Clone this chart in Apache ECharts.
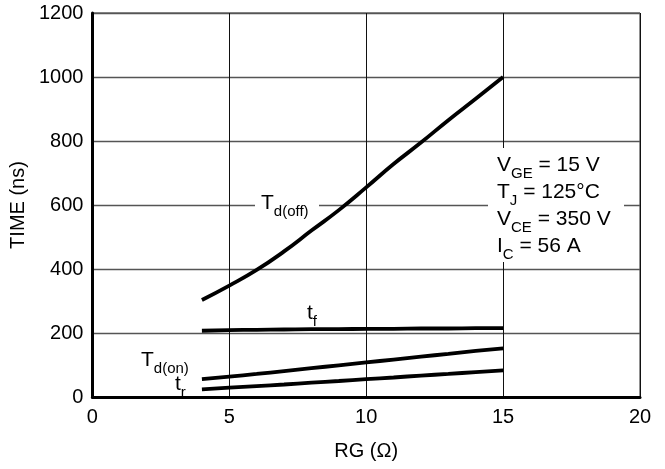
<!DOCTYPE html>
<html>
<head>
<meta charset="utf-8">
<script src="https://cdn.jsdelivr.net/npm/echarts@6/dist/echarts.min.js"></script>
<style>
html,body{margin:0;padding:0;background:#fff;}
#c{width:665px;height:469px;}
</style>
</head>
<body>
<div id="c"></div>
<script>
// Switching times versus gate resistance
const rg = [4, 5, 6, 7, 8, 9, 10, 11, 12, 13, 14, 15];
const tdOff = [303, 348, 397, 455, 520, 584, 655, 728, 795, 865, 932, 1000];
const tf = [207, 209, 210, 211, 212, 212, 213, 213, 214, 214, 215, 215];
const tdOn = [56, 64, 72, 81, 90, 99, 108, 117, 126, 135, 144, 152];
const tr = [24, 29, 34, 39, 45, 50, 56, 61, 67, 72, 78, 83];
const xTicks = [0, 5, 10, 15, 20];
const yTicks = [0, 200, 400, 600, 800, 1000, 1200];

const FONT = '"Liberation Sans", Arial, Helvetica, sans-serif';
const pairs = (ys) => rg.map((x, i) => [x, ys[i]]);

const chart = echarts.init(document.getElementById('c'), null, {renderer: 'canvas'});

function curve(name, ys) {
  return {
    name, type: 'line', data: pairs(ys), smooth: true, symbol: 'none',
    lineStyle: {color: '#000', width: 3.8}, z: 5
  };
}

// main glyphs fill a 26px line; subscripts sit in a shorter box at its bottom
const sub = {
  b: {fontSize: 21, fontFamily: FONT, color: '#000', lineHeight: 26, verticalAlign: 'top'},
  s: {fontSize: 15, fontFamily: FONT, color: '#000', lineHeight: 14, verticalAlign: 'bottom'}
};

function label(text, x, y) {
  return {
    type: 'text', left: x, top: y, z: 10,
    style: {text, rich: sub, fill: '#000', font: '21px ' + FONT}
  };
}

chart.setOption({
  animation: false,
  backgroundColor: '#fff',
  grid: {left: 92, right: 25, top: 13, bottom: 72, show: true, borderColor: '#222', borderWidth: 1},
  xAxis: {
    type: 'value', min: 0, max: 20, interval: 5,
    name: 'RG (Ω)', nameLocation: 'middle', nameGap: 44,
    nameTextStyle: {fontSize: 20, fontFamily: FONT, color: '#000'},
    axisLine: {lineStyle: {color: '#000', width: 3}},
    axisTick: {show: false},
    axisLabel: {fontSize: 20, fontFamily: FONT, color: '#000', margin: 10,
      formatter: (v) => xTicks.includes(v) ? String(v) : ''},
    splitLine: {lineStyle: {color: '#111', width: 1}}
  },
  yAxis: {
    type: 'value', min: 0, max: 1200, interval: 200,
    name: 'TIME (ns)', nameLocation: 'middle', nameGap: 59,
    nameTextStyle: {fontSize: 20, fontFamily: FONT, color: '#000'},
    axisLine: {lineStyle: {color: '#000', width: 3}},
    axisTick: {show: false},
    axisLabel: {fontSize: 20, fontFamily: FONT, color: '#000', margin: 9,
      formatter: (v) => yTicks.includes(v) ? String(v) : ''},
    splitLine: {lineStyle: {color: '#555', width: 1.3}}
  },
  series: [
    curve('Td(off)', tdOff),
    curve('tf', tf),
    curve('Td(on)', tdOn),
    curve('tr', tr)
  ],
  graphic: [
    // white patches behind the in-plot captions
    {type: 'rect', shape: {x: 488, y: 148, width: 136, height: 114}, style: {fill: '#fff'}, z: 8},
    {type: 'rect', shape: {x: 255, y: 194, width: 64, height: 26}, style: {fill: '#fff'}, z: 8},
    label('{b|T}{s|d(off)}', 261, 193),
    label('{b|t}{s|f}', 307, 303),
    label('{b|T}{s|d(on)}', 141, 350),
    label('{b|t}{s|r}', 175, 374),
    label('{b|V}{s|GE}{b| = 15 V}', 497, 155),
    label('{b|T}{s|J}{b| = 125°C}', 497, 182),
    label('{b|V}{s|CE}{b| = 350 V}', 497, 209),
    label('{b|I}{s|C}{b| = 56 A}', 497, 236)
  ]
});
</script>
</body>
</html>
